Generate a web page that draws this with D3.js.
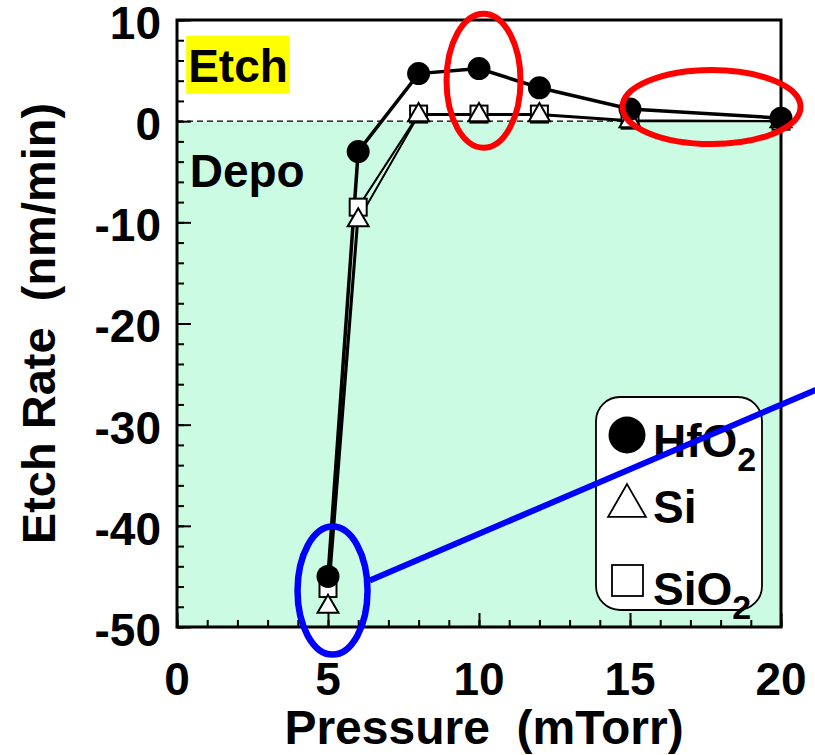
<!DOCTYPE html>
<html>
<head>
<meta charset="utf-8">
<script src="https://cdn.jsdelivr.net/npm/d3@7"></script>
<style>
  html, body { margin: 0; padding: 0; background: #fff; }
  svg { display: block; }
  text { font-family: "Liberation Sans", Arial, sans-serif; font-weight: bold; }
</style>
</head>
<body>
<script>
// Etch rate vs. chamber pressure for three films
const pressure = [5, 6, 8, 10, 12, 15, 20];
const hfo2 = [-45.0, -3.0, 4.7, 5.2, 3.3, 1.2, 0.3];
const si   = [-48.0, -9.8, 0.6, 0.6, 0.6, 0.0, 0.0];
const sio2 = [-46.2, -8.5, 0.7, 0.7, 0.7, 0.1, 0.0];

const xTicks = [0, 5, 10, 15, 20];
const yTicks = [10, 0, -10, -20, -30, -40, -50];

const W = 815, H = 755;
const margin = { left: 177, right: 34, top: 20, bottom: 128 };

const svg = d3.select("body").append("svg").attr("width", W).attr("height", H);

const x = d3.scaleLinear().domain([0, 20]).range([margin.left, W - margin.right]);
const y = d3.scaleLinear().domain([-50, 10]).range([H - margin.bottom, margin.top]);

// Deposition region (below zero) shaded
svg.append("rect")
  .attr("x", x(0)).attr("y", y(0))
  .attr("width", x(20) - x(0)).attr("height", y(-50) - y(0))
  .attr("fill", "#ccfbe3");

// zero reference
svg.append("line")
  .attr("x1", x(0)).attr("x2", x(20)).attr("y1", y(0)).attr("y2", y(0))
  .attr("stroke", "#000").attr("stroke-width", 1.3).attr("stroke-dasharray", "6,4");

// Region labels
const etchBg = svg.append("rect").attr("fill", "#ffff00");
const etchTxt = svg.append("text").attr("x", x(0.37)).attr("y", y(3.9))
  .attr("font-size", 46).text("Etch");
const bb = etchTxt.node().getBBox();
etchBg.attr("x", bb.x - 2).attr("y", y(8.45)).attr("width", bb.width + 4).attr("height", y(2.7) - y(8.45));
svg.append("text").attr("x", x(0.42)).attr("y", y(-6.5))
  .attr("font-size", 46).text("Depo");

// Axes: inward ticks, major every label, minor in between
const xAxisMinor = d3.axisBottom(x).tickValues(d3.range(0, 21, 1)).tickSize(-7).tickFormat("");
const xAxisMajor = d3.axisBottom(x).tickValues(xTicks).tickSize(-14).tickFormat("");
const yAxisMinor = d3.axisLeft(y).tickValues(d3.range(-50, 11, 2)).tickSize(-7).tickFormat("");
const yAxisMajor = d3.axisLeft(y).tickValues(yTicks).tickSize(-14).tickFormat("");

[xAxisMinor, xAxisMajor].forEach(a => {
  svg.append("g").attr("transform", `translate(0,${y(-50)})`).call(a)
    .call(g => g.select(".domain").remove())
    .call(g => g.selectAll("line").attr("stroke", "#000").attr("stroke-width", 2));
});
[yAxisMinor, yAxisMajor].forEach(a => {
  svg.append("g").attr("transform", `translate(${x(0)},0)`).call(a)
    .call(g => g.select(".domain").remove())
    .call(g => g.selectAll("line").attr("stroke", "#000").attr("stroke-width", 2));
});

// Frame
svg.append("rect")
  .attr("x", x(0)).attr("y", y(10))
  .attr("width", x(20) - x(0)).attr("height", y(-50) - y(10))
  .attr("fill", "none").attr("stroke", "#000").attr("stroke-width", 3);

// Tick labels
svg.append("g").selectAll("text").data(xTicks).join("text")
  .attr("x", d => x(d)).attr("y", y(-50) + 68)
  .attr("text-anchor", "middle").attr("font-size", 46)
  .text(d => d);
svg.append("g").selectAll("text").data(yTicks).join("text")
  .attr("x", x(0) - 16).attr("y", d => y(d)).attr("dy", "0.41em")
  .attr("text-anchor", "end").attr("font-size", 46)
  .text(d => d);

// Axis titles
svg.append("text").attr("x", 484).attr("y", 744)
  .attr("text-anchor", "middle").attr("font-size", 48)
  .attr("xml:space", "preserve").text("Pressure  (mTorr)");
svg.append("text")
  .attr("transform", `translate(55,${(y(10) + y(-50)) / 2}) rotate(-90)`)
  .attr("text-anchor", "middle").attr("font-size", 47)
  .attr("xml:space", "preserve").text("Etch Rate  (nm/min)");

// Series lines
const line = d3.line().x((d, i) => x(pressure[i])).y(d => y(d));
svg.append("path").datum(sio2).attr("d", line).attr("fill", "none").attr("stroke", "#000").attr("stroke-width", 2);
svg.append("path").datum(si).attr("d", line).attr("fill", "none").attr("stroke", "#000").attr("stroke-width", 2);
svg.append("path").datum(hfo2).attr("d", line).attr("fill", "none").attr("stroke", "#000").attr("stroke-width", 3.5);

// Markers
const sq = 17;
svg.append("g").selectAll("rect").data(sio2).join("rect")
  .attr("x", (d, i) => x(pressure[i]) - sq / 2).attr("y", d => y(d) - sq / 2)
  .attr("width", sq).attr("height", sq)
  .attr("fill", "#fff").attr("stroke", "#000").attr("stroke-width", 2);
const tri = d3.symbol().type(d3.symbolTriangle).size(190);
svg.append("g").selectAll("path").data(si).join("path")
  .attr("transform", (d, i) => `translate(${x(pressure[i])},${y(d)})`)
  .attr("d", tri).attr("fill", "#fff").attr("stroke", "#000").attr("stroke-width", 2);
svg.append("g").selectAll("circle").data(hfo2).join("circle")
  .attr("cx", (d, i) => x(pressure[i])).attr("cy", d => y(d)).attr("r", 11.5)
  .attr("fill", "#000");

// Legend
const lg = svg.append("g");
lg.append("rect").attr("x", 596).attr("y", 397).attr("width", 166).attr("height", 213)
  .attr("rx", 24).attr("fill", "#fff").attr("stroke", "#000").attr("stroke-width", 1.8);
const legendItems = [
  { sym: "circle", label: "HfO", sub: "2" },
  { sym: "triangle", label: "Si", sub: "" },
  { sym: "square", label: "SiO", sub: "2" }
];
legendItems.forEach((it, i) => {
  const cy = 435 + i * 66;
  if (it.sym === "circle") {
    lg.append("circle").attr("cx", 627).attr("cy", cy).attr("r", 18.5).attr("fill", "#000");
  } else if (it.sym === "triangle") {
    lg.append("path").attr("transform", `translate(627,${cy + 5})`)
      .attr("d", d3.symbol().type(d3.symbolTriangle).size(620)).attr("fill", "#fff")
      .attr("stroke", "#000").attr("stroke-width", 1.8);
  } else {
    lg.append("rect").attr("x", 612).attr("y", cy - 2).attr("width", 31).attr("height", 31)
      .attr("fill", "#fff").attr("stroke", "#000").attr("stroke-width", 1.8);
  }
  const t = lg.append("text").attr("x", 653).attr("y", cy + (i === 2 ? 38 : 22)).attr("font-size", 46);
  t.append("tspan").text(it.label);
  if (it.sub) t.append("tspan").attr("font-size", 34).attr("dy", 14).text(it.sub);
});

// Highlight annotations
const ann = svg.append("g").attr("fill", "none");
ann.append("ellipse").attr("cx", x(10.15)).attr("cy", y(4.0)).attr("rx", 37).attr("ry", 67)
  .attr("stroke", "#ff0000").attr("stroke-width", 6);
ann.append("ellipse").attr("cx", x(17.7)).attr("cy", y(1.4)).attr("rx", 89).attr("ry", 37)
  .attr("stroke", "#ff0000").attr("stroke-width", 6);
ann.append("ellipse").attr("cx", x(5.15)).attr("cy", y(-46.4)).attr("rx", 35).attr("ry", 64)
  .attr("stroke", "#0000ff").attr("stroke-width", 6.5);
ann.append("line").attr("x1", x(6.38)).attr("y1", y(-45.4)).attr("x2", x(21.2)).attr("y2", y(-26.5))
  .attr("stroke", "#0000ff").attr("stroke-width", 6);
</script>
</body>
</html>
